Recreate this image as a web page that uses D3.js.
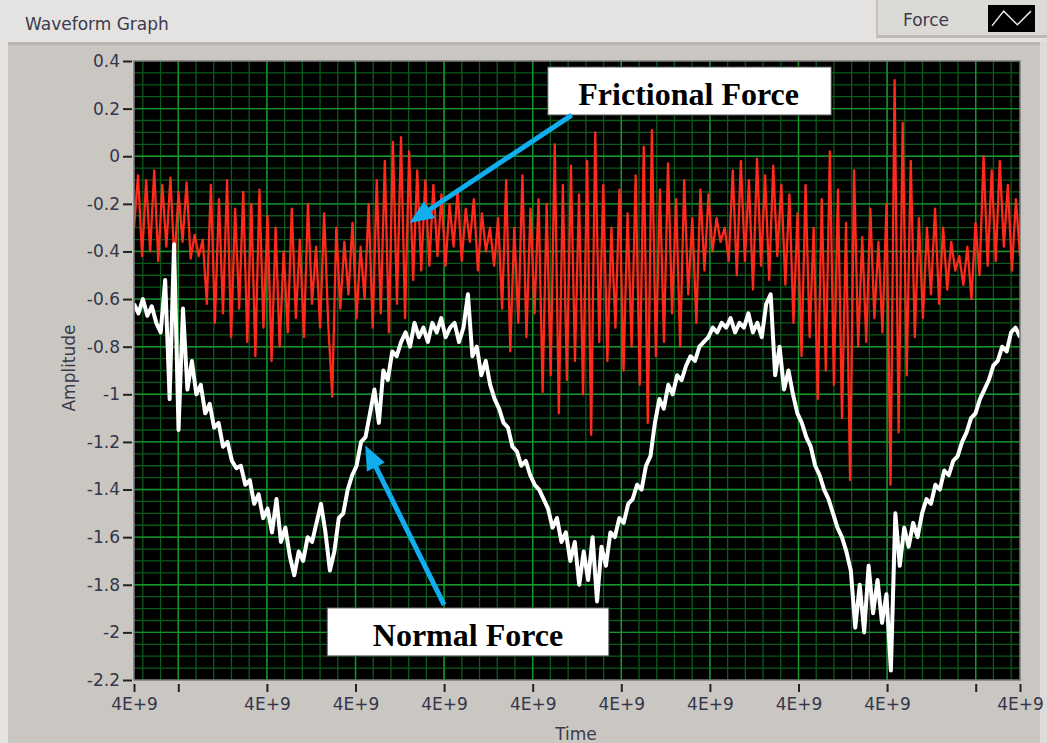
<!DOCTYPE html>
<html>
<head>
<meta charset="utf-8">
<script src="https://cdn.jsdelivr.net/npm/d3@7"></script>
<style>
  body { margin: 0; background: #e4e3e1; }
  svg { display: block; font-family: "DejaVu Sans", sans-serif; }
</style>
</head>
<body>
<svg id="chart"></svg>
<script>
// frictional force (red), read left to right across the plot
const frictionalForce = [
  -0.30, -0.08, -0.42, -0.10, -0.40, -0.06, -0.44, -0.12, -0.38, -0.09, -0.45, -0.15, -0.36, -0.11, -0.43, -0.33, -0.42,
  -0.35, -0.62, -0.12, -0.70, -0.18, -0.66, -0.10, -0.76, -0.22, -0.64, -0.15,
  -0.78, -0.20, -0.84, -0.14, -0.72, -0.25, -0.86, -0.30, -0.80, -0.40,
  -0.74, -0.22, -0.68, -0.35, -0.76, -0.20, -0.62, -0.38, -0.72, -0.24, -0.70,
  -1.01, -0.30, -0.64, -0.36, -0.58, -0.28, -0.68, -0.38, -0.60,
  -0.20, -0.72, -0.10, -0.66, -0.02, -0.74, 0.06, -0.62, 0.08, -0.68, 0.02,
  -0.52, -0.06, -0.48, -0.10, -0.46, -0.12,
  -0.42, -0.16, -0.46, -0.20, -0.38, -0.14, -0.44, -0.22, -0.36, -0.18, -0.48, -0.24, -0.40, -0.30, -0.46,
  -0.26, -0.64, -0.10, -0.82, -0.30, -0.70, -0.08, -0.76, -0.22, -0.66, -0.18,
  -0.99, -0.20, -0.92, 0.05, -1.08, -0.12, -0.94,
  -0.04, -0.86, -0.16, -1.00, -0.02, -1.17, 0.10,
  -0.78, -0.12, -0.86, -0.30, -0.72, -0.14, -0.90, -0.24,
  -0.80, -0.08, -0.96, 0.04, -1.12, 0.11, -0.84, -0.14,
  -0.78, -0.03, -0.66, -0.18, -0.80, -0.10, -0.58, -0.26, -0.70,
  -0.14, -0.48, -0.16, -0.40, -0.26, -0.36, -0.30, -0.44,
  -0.06, -0.50, -0.02, -0.44, -0.10, -0.56, -0.01, -0.46, -0.08, -0.52, -0.04, -0.42, -0.12, -0.54, -0.16,
  -0.70, -0.24, -0.84, -0.12, -0.76, -0.30, -1.02, -0.18, -0.90, 0.02, -0.96,
  -0.14, -1.10, -0.28, -1.36, -0.06, -0.80, -0.34,
  -0.78, -0.22, -0.68, -0.36, -0.74, -0.20,
  -1.38, 0.32, -1.16, 0.14, -0.92, -0.02,
  -0.76, -0.26, -0.68, -0.30, -0.58, -0.22, -0.62,
  -0.30, -0.56, -0.36, -0.48, -0.42, -0.54, -0.38, -0.60, -0.28,
  -0.50, 0.00, -0.46, -0.06, -0.44, -0.02, -0.38, -0.12, -0.48, -0.18, -0.42
];

// normal force (white)
const normalForce = [
  -0.62, -0.66, -0.60, -0.67, -0.63, -0.70,
  -0.74, -0.52, -1.02, -0.37, -1.15, -0.64, -0.98,
  -0.86, -1.00,
  -0.96, -1.08, -1.04, -1.14, -1.12, -1.22, -1.20, -1.28, -1.31,
  -1.30, -1.38, -1.36, -1.46, -1.42, -1.52, -1.48, -1.58, -1.44, -1.62, -1.56,
  -1.68, -1.76, -1.66,
  -1.70, -1.60, -1.62, -1.54, -1.46,
  -1.58, -1.74, -1.66,
  -1.52, -1.50, -1.40, -1.34, -1.30, -1.20, -1.18,
  -1.08, -0.98, -1.12, -0.90, -0.94, -0.82, -0.84,
  -0.78, -0.74, -0.80, -0.70, -0.76, -0.72, -0.78, -0.70,
  -0.74, -0.68, -0.76, -0.72, -0.70, -0.78, -0.72,
  -0.58, -0.84, -0.80, -0.92, -0.86,
  -0.96, -1.02, -1.06, -1.12, -1.14, -1.22,
  -1.24, -1.30, -1.28, -1.34, -1.38, -1.40, -1.44,
  -1.48, -1.56, -1.52, -1.62, -1.58,
  -1.70, -1.62, -1.80, -1.66, -1.78, -1.60, -1.87, -1.64,
  -1.72, -1.58, -1.60, -1.52, -1.54, -1.46,
  -1.44, -1.38, -1.40, -1.30,
  -1.26, -1.12, -1.02,
  -1.06, -0.96, -1.00, -0.92, -0.94,
  -0.88, -0.84, -0.86, -0.80, -0.78,
  -0.76, -0.72, -0.74, -0.70, -0.72,
  -0.68, -0.74, -0.70, -0.72, -0.66, -0.74, -0.70, -0.76,
  -0.62, -0.58, -0.92, -0.80, -0.98, -0.90,
  -1.00, -1.08, -1.12, -1.18, -1.22, -1.30,
  -1.34, -1.40, -1.44, -1.50, -1.56, -1.60, -1.66,
  -1.74, -1.98, -1.80, -2.00,
  -1.72, -1.92, -1.78, -1.96,
  -1.84, -2.16, -1.50, -1.72,
  -1.56, -1.64, -1.54, -1.60, -1.50,
  -1.44, -1.46, -1.38, -1.40, -1.32, -1.34, -1.28, -1.26,
  -1.20, -1.16, -1.10, -1.08, -1.02, -0.98, -0.94,
  -0.88, -0.86, -0.80, -0.82, -0.74, -0.72, -0.76
];

const yTickValues = [0.4, 0.2, 0, -0.2, -0.4, -0.6, -0.8, -1, -1.2, -1.4, -1.6, -1.8, -2, -2.2];
const yTickLabels = ["0.4", "0.2", "0", "-0.2", "-0.4", "-0.6", "-0.8", "-1", "-1.2", "-1.4", "-1.6", "-1.8", "-2", "-2.2"];
const xTickValues = [0, 0.5, 1.5, 2.5, 3.5, 4.5, 5.5, 6.5, 7.5, 8.5, 9.5, 10];
const xTickLabels = ["4E+9", "", "4E+9", "4E+9", "4E+9", "4E+9", "4E+9", "4E+9", "4E+9", "4E+9", "", "4E+9"];

// call-outs, in data units (x: time span 0..10, y: amplitude)
const annotations = [
  { text: "Frictional Force", box: [4.67, 7.87, 0.375, 0.173], label: [6.26, 0.216], from: [4.94, 0.173], to: [3.11, -0.28] },
  { text: "Normal Force", box: [2.18, 5.36, -1.897, -2.099], label: [3.77, -2.057], from: [3.50, -1.884], to: [2.61, -1.215] }
];
const legendIcon = [[0, 0.85], [0.3, 0.15], [0.65, 0.8], [1, 0.15]];

const config = {
  width: 1047, height: 743,
  margin: { top: 61, left: 134, right: 27, bottom: 63 }
};
const innerW = config.width - config.margin.left - config.margin.right;
const innerH = config.height - config.margin.top - config.margin.bottom;

const svg = d3.select("#chart")
  .attr("width", config.width)
  .attr("height", config.height);

// panel backgrounds
svg.append("rect").attr("width", config.width).attr("height", config.height).attr("fill", "#e4e3e1");
svg.append("rect").attr("x", 8).attr("y", 42).attr("width", 1034).attr("height", 701).attr("fill", "#cac7c2");
svg.append("rect").attr("x", 8).attr("y", 42).attr("width", 1034).attr("height", 3).attr("fill", "#b9b6b1");
svg.append("rect").attr("x", 1040).attr("y", 42).attr("width", 7).attr("height", 701).attr("fill", "#dedcd9");

// legend tab
svg.append("rect").attr("x", 876).attr("y", 0).attr("width", 171).attr("height", 36).attr("fill", "#dcdad6");
svg.append("rect").attr("x", 876).attr("y", 35).attr("width", 171).attr("height", 3).attr("fill", "#bdbab5");
svg.append("rect").attr("x", 876).attr("y", 0).attr("width", 2).attr("height", 37).attr("fill", "#c4c1bc");
svg.append("text").attr("x", 903).attr("y", 26).attr("font-size", 17).attr("fill", "#3a3b4c").text("Force");
const icon = { x: 988, y: 5, w: 47, h: 27 };
svg.append("rect").attr("x", icon.x).attr("y", icon.y).attr("width", icon.w).attr("height", icon.h).attr("fill", "#000");
svg.append("path")
  .datum(legendIcon)
  .attr("d", d3.line().x(d => icon.x + 4 + d[0] * (icon.w - 8)).y(d => icon.y + 3 + d[1] * (icon.h - 6)))
  .attr("fill", "none").attr("stroke", "#e8e8e8").attr("stroke-width", 1.5);

svg.append("text").attr("x", 25).attr("y", 30).attr("font-size", 17).attr("fill", "#3a3b4c").text("Waveform Graph");

const g = svg.append("g").attr("transform", `translate(${config.margin.left},${config.margin.top})`);

const xScale = d3.scaleLinear().domain([0, 10]).range([0, innerW]);
const yScale = d3.scaleLinear().domain([-2.2, 0.4]).range([innerH, 0]);

g.append("rect").attr("width", innerW).attr("height", innerH).attr("fill", "#000");

// grid
const minorX = d3.range(0.1, 10, 0.2);
const minorY = d3.range(-2.15, 0.4, 0.05);
g.append("g").selectAll("line").data(minorX).join("line")
  .attr("x1", d => xScale(d)).attr("x2", d => xScale(d)).attr("y1", 0).attr("y2", innerH)
  .attr("stroke", "#0b5a1b").attr("stroke-width", 1.3);
g.append("g").selectAll("line").data(minorY).join("line")
  .attr("x1", 0).attr("x2", innerW).attr("y1", d => yScale(d)).attr("y2", d => yScale(d))
  .attr("stroke", "#0b5a1b").attr("stroke-width", 1.3);
g.append("g").selectAll("line").data(xTickValues.slice(1, -1)).join("line")
  .attr("x1", d => xScale(d)).attr("x2", d => xScale(d)).attr("y1", 0).attr("y2", innerH)
  .attr("stroke", "#15962c").attr("stroke-width", 1.4);
g.append("g").selectAll("line").data(yTickValues.slice(1, -1)).join("line")
  .attr("x1", 0).attr("x2", innerW).attr("y1", d => yScale(d)).attr("y2", d => yScale(d))
  .attr("stroke", "#15962c").attr("stroke-width", 1.4);

g.append("clipPath").attr("id", "plotClip")
  .append("rect").attr("width", innerW).attr("height", innerH);

const series = [
  { values: frictionalForce, color: "#ff2a1c", width: 2.3 },
  { values: normalForce, color: "#ffffff", width: 4 }
];
const line = d3.line();
g.append("g").attr("clip-path", "url(#plotClip)")
  .selectAll("path").data(series).join("path")
  .attr("d", s => line(s.values.map((v, i) => [xScale(i / (s.values.length - 1) * 10), yScale(v)])))
  .attr("fill", "none")
  .attr("stroke", s => s.color)
  .attr("stroke-width", s => s.width)
  .attr("stroke-linejoin", "round");

g.append("rect").attr("width", innerW).attr("height", innerH)
  .attr("fill", "none").attr("stroke", "#7c7b78").attr("stroke-width", 1.5);

// axes
const yAxis = d3.axisLeft(yScale)
  .tickValues(yTickValues)
  .tickFormat((d, i) => yTickLabels[i])
  .tickSize(9).tickPadding(3);
const yAxisG = g.append("g").attr("transform", "translate(-2,0)").call(yAxis);

const xAxis = d3.axisBottom(xScale)
  .tickValues(xTickValues)
  .tickFormat((d, i) => xTickLabels[i])
  .tickSize(8).tickPadding(6);
const xAxisG = g.append("g").attr("transform", `translate(0,${innerH + 4})`).call(xAxis);

[yAxisG, xAxisG].forEach(a => {
  a.select(".domain").remove();
  a.selectAll(".tick line").attr("stroke", "#222").attr("stroke-width", 2);
  a.selectAll(".tick text").attr("font-size", 17).attr("fill", "#34364a")
    .attr("font-family", "DejaVu Sans, sans-serif");
});

svg.append("text")
  .attr("transform", "translate(75,368) rotate(-90)")
  .attr("text-anchor", "middle").attr("font-size", 17).attr("fill", "#3a3b4c")
  .text("Amplitude");
svg.append("text")
  .attr("x", 576).attr("y", 740)
  .attr("text-anchor", "middle").attr("font-size", 17).attr("fill", "#3a3b4c")
  .text("Time");

// call-out boxes and arrows
const notes = g.append("g");
annotations.forEach(a => {
  const x0 = xScale(a.box[0]), x1 = xScale(a.box[1]);
  const y0 = yScale(a.box[2]), y1 = yScale(a.box[3]);
  notes.append("rect")
    .attr("x", x0).attr("y", y0).attr("width", x1 - x0).attr("height", y1 - y0)
    .attr("fill", "#fff").attr("stroke", "#444").attr("stroke-width", 1);
  notes.append("text")
    .attr("x", xScale(a.label[0])).attr("y", yScale(a.label[1]))
    .attr("text-anchor", "middle")
    .attr("font-family", "Liberation Serif, Times New Roman, serif")
    .attr("font-weight", "bold").attr("font-size", 32).attr("fill", "#000")
    .text(a.text);

  const sx = xScale(a.from[0]), sy = yScale(a.from[1]);
  const tx = xScale(a.to[0]), ty = yScale(a.to[1]);
  const len = Math.hypot(tx - sx, ty - sy);
  const ux = (tx - sx) / len, uy = (ty - sy) / len;
  const headL = 24, headW = 10;
  const bx = tx - ux * headL, by = ty - uy * headL;
  notes.append("line")
    .attr("x1", sx).attr("y1", sy).attr("x2", bx + ux * 2).attr("y2", by + uy * 2)
    .attr("stroke", "#10aeef").attr("stroke-width", 5);
  notes.append("path")
    .attr("d", `M${tx},${ty}L${bx - uy * headW},${by + ux * headW}L${bx + uy * headW},${by - ux * headW}Z`)
    .attr("fill", "#10aeef");
});
</script>
</body>
</html>
